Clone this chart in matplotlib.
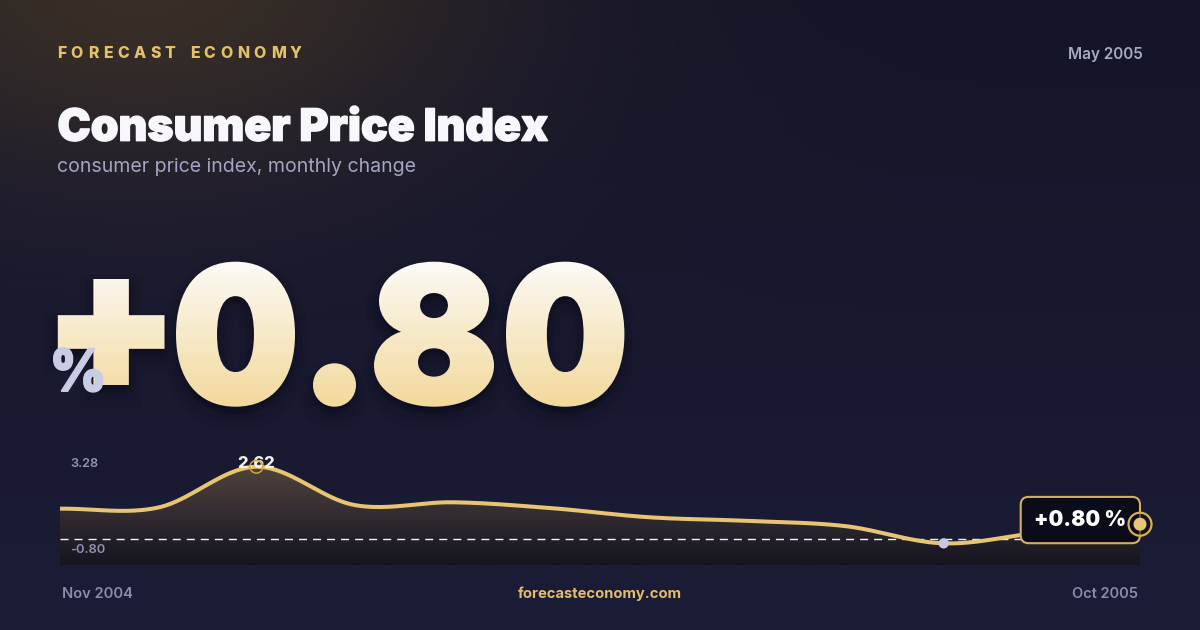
import numpy as np
import matplotlib
matplotlib.use("Agg")
import matplotlib.pyplot as plt
import matplotlib.patheffects as pe
from matplotlib.textpath import TextPath
from matplotlib.font_manager import FontProperties
from matplotlib.patches import PathPatch, FancyBboxPatch, Circle
from matplotlib.transforms import Affine2D, Bbox, TransformedBbox
from matplotlib.path import Path

plt.rcParams['font.family'] = ['Inter', 'DejaVu Sans']
plt.rcParams['lines.scale_dashes'] = False
HEAVY = ['Inter Black', 'Inter']
XBOLD = ['Inter ExtraBold', 'Inter']

# ---------------- data ----------------
months = ['Nov 2004', 'Dec 2004', 'Jan 2005', 'Feb 2005', 'Mar 2005', 'Apr 2005',
          'May 2005', 'Jun 2005', 'Jul 2005', 'Aug 2005', 'Sep 2005', 'Oct 2005']
cpi_change = [1.11, 1.15, 2.62, 1.24, 1.34, 1.13, 0.80, 0.67, 0.48, -0.14, 0.26, 0.55]
brand = 'FORECAST ECONOMY'
title = 'Consumer Price Index'
subtitle = 'consumer price index, monthly change'
report_month = 'May 2005'
headline_value = 0.80
scale_max_label = 3.28
scale_min_label = -0.80
site = 'forecasteconomy.com'

W, H = 1200, 630
fig = plt.figure(figsize=(12, 6.3), dpi=100)
R = fig.canvas.get_renderer()

# ---------------- background ----------------
bg = fig.add_axes([0, 0, 1, 1])
bg.set_xlim(0, W); bg.set_ylim(H, 0); bg.axis('off')
yy, xx = np.mgrid[0:H, 0:W].astype(float)
t = (yy / H)[..., None]
top_c = np.array([21, 21, 40.0]); bot_c = np.array([27, 28, 54.0])
img = top_c * (1 - t) + bot_c * t
glow = np.exp(-(((xx - 140) / 360) ** 2 + ((yy + 30) / 210) ** 2))[..., None]
img = img + glow * np.array([36, 26, -2.0])
img = np.clip(img / 255.0, 0, 1)
bg.imshow(img, extent=(0, W, H, 0), origin='upper', aspect='auto', zorder=0)
bg.set_xlim(0, W); bg.set_ylim(H, 0)


def put(axis, x, y, s, size, color, weight='normal', ha='left', width=None, zorder=5,
        family=None, **kw):
    if family is not None:
        kw['family'] = family
    tx = axis.text(x, y, s, fontsize=size, color=color, fontweight=weight, ha=ha,
                   va='baseline', zorder=zorder, **kw)
    if width is not None:
        w = tx.get_window_extent(R).width
        tx.set_fontsize(size * width / w)
    return tx


def spaced(axis, x0, y, s, size, color, weight, total_w, family=None):
    widths = []
    for ch in s:
        if ch == ' ':
            widths.append(size * 100 / 72 * 0.3)
        else:
            tmp = axis.text(0, 0, ch, fontsize=size, fontweight=weight, family=family)
            widths.append(tmp.get_window_extent(R).width)
            tmp.remove()
    gap = (total_w - sum(widths)) / (len(s) - 1)
    x = x0
    for ch, w in zip(s, widths):
        if ch != ' ':
            axis.text(x, y, ch, fontsize=size, fontweight=weight, color=color, family=family,
                      ha='left', va='baseline', zorder=5)
        x += w + gap


# header texts
spaced(bg, 57, 58, brand, 11.4, '#E5C06A', 'heavy', 245, family=XBOLD)
put(bg, 1143, 59.5, report_month, 10.5, '#A8AAC4', 'semibold', ha='right', width=75)
tt_ = put(bg, 57.5, 140.7, title, 34, '#F8F8FC', 'black', width=491, family=HEAVY)
tt_.set_path_effects([pe.withStroke(linewidth=1.0, foreground='#F8F8FC')])
put(bg, 57, 172, subtitle, 13, '#A3A5C2', 'normal', width=359)

# ---------------- big headline number ----------------
fp_big = FontProperties(family=HEAVY, weight='black')


def fitted(ch, box, shrink):
    tp = TextPath((0, 0), ch, size=100, prop=fp_big)
    bb = tp.get_extents()
    xa, xb, ya, yb = box[0] + shrink, box[1] - shrink, box[2] + shrink, box[3] - shrink
    return (Affine2D().translate(-bb.x0, -bb.y1)
            .scale((xb - xa) / bb.width, -(yb - ya) / bb.height)
            .translate(xa, ya).transform_path(tp))


big_text = f'{headline_value:+.2f}'
glyph_boxes = [(57.8, 164.5, 279, 385), (176, 295, 261.7, 406.7), (313, 356, 363.3, 406.7),
               (374, 494, 261.7, 406.7), (506, 624.4, 261.7, 406.7)]
LW_PX = 4.5
lw_pt = LW_PX * 72 / 100
big_path = Path.make_compound_path(*[fitted(c, b, LW_PX / 2) for c, b in zip(big_text, glyph_boxes)])

for dy, extra, a in [(10, 20, 0.05), (8, 11, 0.07), (5, 4, 0.10)]:
    sp = Affine2D().translate(0, dy).transform_path(big_path)
    bg.add_patch(PathPatch(sp, fc=(0.02, 0.02, 0.05, a), ec=(0.02, 0.02, 0.05, a),
                           lw=lw_pt + extra, zorder=2))

c_top = np.array([252, 250, 246.0]); c_bot = np.array([242, 216, 154.0])
for yb0 in range(255, 414, 2):
    f = np.clip((yb0 + 1 - 261.7) / (406.7 - 261.7), 0, 1)
    col = (c_top * (1 - f) + c_bot * f) / 255.0
    pp = PathPatch(big_path, fc=col, ec=col, lw=lw_pt, joinstyle='miter', zorder=3)
    bg.add_patch(pp)
    pp.set_clip_box(TransformedBbox(Bbox([[0, yb0], [W, yb0 + 2]]), bg.transData))

pct = fitted('%', (53, 103.3, 347, 392.7), 0.8)
bg.add_patch(PathPatch(pct, fc='#C9CCE5', ec='#C9CCE5', lw=1.1, zorder=6))


# ---------------- sparkline chart ----------------
def catmull_rom(y, n=40):
    y = np.asarray(y, float)
    N = len(y)
    m = np.zeros(N)
    m[1:-1] = (y[2:] - y[:-2]) / 2
    m[0] = y[1] - y[0]
    m[-1] = y[-1] - y[-2]
    xs, ys = [], []
    for i in range(N - 1):
        s = np.linspace(0, 1, n, endpoint=(i == N - 2))
        h00 = 2 * s**3 - 3 * s**2 + 1
        h10 = s**3 - 2 * s**2 + s
        h01 = -2 * s**3 + 3 * s**2
        h11 = s**3 - s**2
        ys.append(h00 * y[i] + h10 * m[i] + h01 * y[i + 1] + h11 * m[i + 1])
        xs.append(i + s)
    return np.concatenate(xs), np.concatenate(ys)


x_idx = np.arange(len(months))
xs, ys = catmull_rom(cpi_change)
ylo, yhi = scale_min_label - 0.12, scale_max_label + 0.015

ax = fig.add_axes([60 / W, 1 - 565 / H, 1080 / W, 117 / H])
ax.axis('off')
poly = ax.fill_between(xs, ys, ylo, facecolor='none', edgecolor='none')
rows = np.linspace(448, 565, 117)
stops_y = [448, 470, 500, 539, 565]
stops_c = np.array([[84, 72, 61], [77, 66, 57], [59, 51, 52], [36, 32, 42], [22, 21, 31]], float)
fill_grad = np.stack([np.interp(rows, stops_y, stops_c[:, k]) for k in range(3)], axis=1) / 255.0
fim = ax.imshow(fill_grad[:, None, :], extent=(0, len(months) - 1, ylo, yhi), origin='upper',
                aspect='auto', zorder=1, interpolation='bilinear')
fim.set_clip_path(poly.get_paths()[0], transform=ax.transData)
ax.axhline(0, color='#F2F2F6', alpha=1.0, lw=1.0, dashes=(5.8, 4.3), zorder=2)
ax.plot(xs, ys, color='#E8C572', lw=2.9, solid_capstyle='round', zorder=3)
ax.set_xlim(0, len(months) - 1)
ax.set_ylim(ylo, yhi)

ipk = int(np.argmax(cpi_change))
imn = int(np.argmin(cpi_change))
pk = ax.annotate(f'{cpi_change[ipk]:.2f}', (x_idx[ipk], cpi_change[ipk]), xytext=(0, -1),
                 textcoords='offset pixels', ha='center', va='baseline', color='#F4F1EA',
                 fontsize=12.5, fontweight='heavy', family=XBOLD, zorder=4,
                 annotation_clip=False)
w = pk.get_window_extent(R).width
pk.set_fontsize(12.5 * 38.3 / w)
ax.scatter([x_idx[ipk]], [cpi_change[ipk]], s=85, facecolors='none', edgecolors='#CFA445',
           linewidths=1.1, zorder=5, clip_on=False)
ax.scatter([x_idx[imn]], [cpi_change[imn]], s=55, color='#C5C8DE', zorder=5, clip_on=False,
           edgecolors='none')

# ---------------- overlay ----------------
ov = fig.add_axes([0, 0, 1, 1])
ov.set_xlim(0, W); ov.set_ylim(H, 0); ov.axis('off')


def to_px(x, y):
    return ov.transData.inverted().transform(ax.transData.transform((x, y)))


put(ov, 70, 466.6, f'{scale_max_label:.2f}', 10.5, '#8F92B0', 'semibold', width=28.3)
put(ov, 70, 552.6, f'{scale_min_label:.2f}', 10.5, '#8F92B0', 'semibold', width=35.7)

lx, ly = to_px(x_idx[-1], cpi_change[-1])
ov.add_patch(FancyBboxPatch((lx - 119.3, ly - 27.3), 119.3, 46.3,
                            boxstyle='round,pad=0,rounding_size=8', fc='#0b0c19',
                            ec='#D6B05A', lw=1.5, zorder=6))
put(ov, lx - 60, ly + 1.7, f'{headline_value:+.2f} %', 14, '#FFFFFF', 'black', ha='center',
    width=91.7, zorder=7, family=HEAVY)
ov.add_patch(Circle((lx, ly), 11.5, fc=(0.05, 0.05, 0.1, 0.6), ec='#D9B050', lw=1.6, zorder=8))
ov.add_patch(Circle((lx, ly), 6.5, fc='#E8C677', ec='none', zorder=9))

put(ov, 62, 597.7, months[0], 10.5, '#8A8DAB', 'semibold', width=70.8)
put(ov, 1138, 597.7, months[-1], 10.5, '#8A8DAB', 'semibold', ha='right', width=66)
put(ov, 600, 597.7, site, 10.5, '#E2BE6A', 'bold', ha='center', width=164)

fig.savefig('out.png', dpi=100)
